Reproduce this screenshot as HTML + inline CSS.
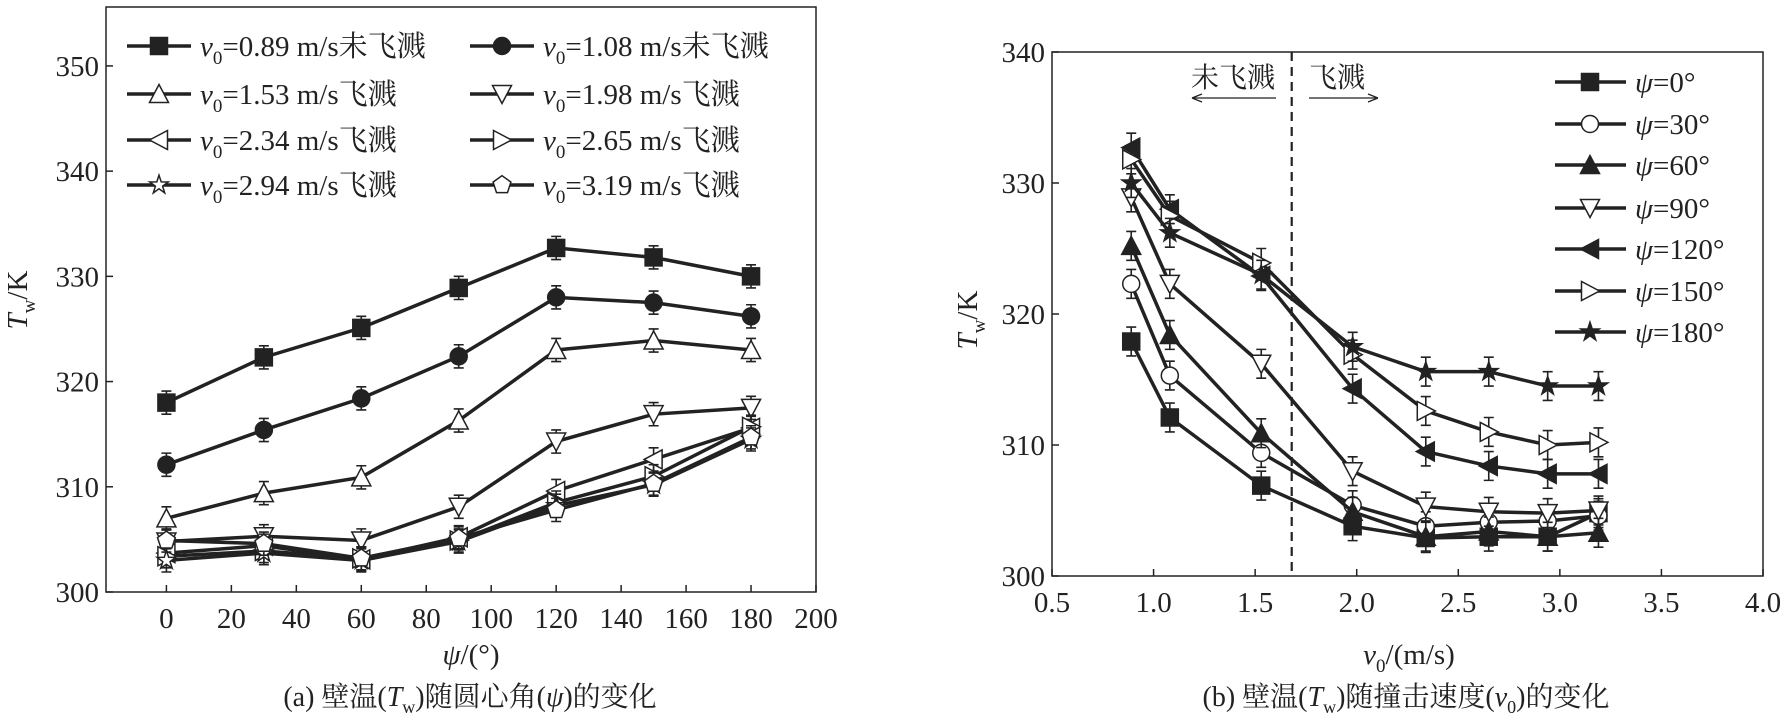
<!DOCTYPE html>
<html><head><meta charset="utf-8"><style>
html,body{margin:0;padding:0;background:#fff}
svg, svg text{font-family:"Liberation Serif","DejaVu Serif","Noto Serif CJK SC",serif}
</style></head><body>
<svg id="chart" width="1784" height="717" viewBox="0 0 1784 717" xmlns="http://www.w3.org/2000/svg"></svg>
<script>
// ---- Chart (a) data ----
const psiCats = [0, 30, 60, 90, 120, 150, 180];
const aLabels = ["0.89 m/s未飞溅","1.08 m/s未飞溅","1.53 m/s飞溅","1.98 m/s飞溅","2.34 m/s飞溅","2.65 m/s飞溅","2.94 m/s飞溅","3.19 m/s飞溅"];
const aV089 = [318.0, 322.3, 325.1, 328.9, 332.7, 331.8, 330.0];
const aV108 = [312.1, 315.4, 318.4, 322.4, 328.0, 327.5, 326.2];
const aV153 = [307.0, 309.4, 310.9, 316.3, 323.0, 323.9, 323.0];
const aV198 = [304.8, 305.3, 304.9, 308.1, 314.3, 316.9, 317.5];
const aV234 = [303.7, 304.4, 303.1, 305.2, 309.6, 312.6, 315.6];
const aV265 = [303.4, 303.9, 303.2, 304.9, 308.5, 311.0, 315.7];
const aV294 = [303.0, 303.7, 303.0, 304.8, 308.2, 310.2, 314.5];
const aV319 = [304.9, 304.6, 303.2, 305.1, 307.8, 310.3, 314.7];
const aXTicks = [0,20,40,60,80,100,120,140,160,180,200];
const aYTicks = [300,310,320,330,340,350];
// ---- Chart (b) data ----
const vCats = [0.89, 1.08, 1.53, 1.98, 2.34, 2.65, 2.94, 3.19];
const bLabels = ["0°","30°","60°","90°","120°","150°","180°"];
const bP0   = [317.9, 312.1, 306.9, 303.8, 302.9, 303.0, 303.0, 304.8];
const bP30  = [322.3, 315.3, 309.4, 305.4, 303.8, 304.1, 304.2, 304.6];
const bP60  = [325.2, 318.4, 310.9, 304.9, 303.0, 303.4, 303.0, 303.3];
const bP90  = [328.9, 322.3, 316.2, 308.0, 305.3, 304.9, 304.8, 305.0];
const bP120 = [332.7, 328.0, 322.9, 314.3, 309.5, 308.4, 307.8, 307.8];
const bP150 = [331.8, 327.5, 323.9, 316.9, 312.6, 311.0, 310.0, 310.2];
const bP180 = [330.0, 326.2, 323.0, 317.5, 315.6, 315.6, 314.5, 314.5];
const bXTicks = [0.5,1.0,1.5,2.0,2.5,3.0,3.5,4.0];
const bYTicks = [300,310,320,330,340];
const errHalf = 1.1;
const splashBoundary = 1.68;

const NS="http://www.w3.org/2000/svg";
const svg=document.getElementById('chart');
const FF='"Liberation Serif","DejaVu Serif","Noto Serif CJK SC",serif';
function mk(tag,attrs,parent){const e=document.createElementNS(NS,tag);for(const k in attrs)e.setAttribute(k,attrs[k]);if(tag==='text')e.setAttribute('font-family',FF);(parent||svg).appendChild(e);return e;}

function marker(g,type,x,y){
  const s=8.5; let e;
  const fill = (type==='sq'||type==='circ'||type==='tri'||type==='tl'||type==='star') ? '#222':'#fff';
  if(type==='sq'||type==='sqf') e=mk('rect',{x:x-s,y:y-s,width:2*s,height:2*s},g);
  else if(type==='circ'||type==='circo') e=mk('circle',{cx:x,cy:y,r:s},g);
  else if(type==='tri'||type==='trio') e=mk('polygon',{points:`${x},${y-s-1} ${x-s-1},${y+s} ${x+s+1},${y+s}`},g);
  else if(type==='tdo') e=mk('polygon',{points:`${x-s-1},${y-s} ${x+s+1},${y-s} ${x},${y+s+1}`},g);
  else if(type==='tl'||type==='tlo') e=mk('polygon',{points:`${x-s-1},${y} ${x+s},${y-s-1} ${x+s},${y+s+1}`},g);
  else if(type==='tro') e=mk('polygon',{points:`${x+s+1},${y} ${x-s},${y-s-1} ${x-s},${y+s+1}`},g);
  else if(type==='star'||type==='staro'){let p=[];for(let i=0;i<10;i++){const r=i%2?s*0.45:s*1.15;const a=-Math.PI/2+i*Math.PI/5;p.push((x+r*Math.cos(a)).toFixed(1)+','+(y+r*Math.sin(a)).toFixed(1));}e=mk('polygon',{points:p.join(' ')},g);}
  else if(type==='pento'){let p=[];for(let i=0;i<5;i++){const a=-Math.PI/2+i*2*Math.PI/5;p.push((x+s*1.1*Math.cos(a)).toFixed(1)+','+(y+s*1.1*Math.sin(a)).toFixed(1));}e=mk('polygon',{points:p.join(' ')},g);}
  e.setAttribute('fill',fill);e.setAttribute('stroke','#222');e.setAttribute('stroke-width','1.5');
  
  
  return e;
}

function drawChart(cfg){
  const {L,R,T,B,xmin,xmax,ymin,ymax,xs,series,types,names,xTicks,yTicks,xFmt,id}=cfg;
  const X=v=>L+(v-xmin)/(xmax-xmin)*(R-L);
  const Y=v=>B-(v-ymin)/(ymax-ymin)*(B-T);
  const g=mk('g',{});
  
  
  const box=mk('rect',{x:L,y:T,width:R-L,height:B-T,fill:'none',stroke:'#222','stroke-width':1.5},g);
  
  
  xTicks.forEach(t=>{
    mk('line',{x1:X(t),x2:X(t),y1:B,y2:B-7,stroke:'#222','stroke-width':1.5},g);
    const tx=mk('text',{x:X(t),y:B+36,'font-size':29,'text-anchor':'middle',fill:'#222'},g);
    tx.textContent=xFmt(t);
    
    
  });
  yTicks.forEach(t=>{
    mk('line',{x1:L,x2:L+7,y1:Y(t),y2:Y(t),stroke:'#222','stroke-width':1.5},g);
    const tx=mk('text',{x:L-7,y:Y(t)+10,'font-size':29,'text-anchor':'end',fill:'#222'},g);
    tx.textContent=t;
    
    
  });
  series.forEach((vals,si)=>{
    const sg=mk('g',{},g);
    
    
    const pl=mk('polyline',{points:vals.map((v,i)=>X(xs[i])+','+Y(v)).join(' '),fill:'none',stroke:'#222','stroke-width':3.5},sg);
    
    
    vals.forEach((v,i)=>{
      const x=X(xs[i]);
      mk('path',{d:`M${x},${Y(v-errHalf)}V${Y(v+errHalf)}M${x-5},${Y(v-errHalf)}h10M${x-5},${Y(v+errHalf)}h10`,stroke:'#222','stroke-width':1.6,fill:'none'},sg);
      marker(sg,types[si],x,Y(v));
    });
  });
  return {X,Y,g};
}

// Chart (a)
const aSeries=[aV089,aV108,aV153,aV198,aV234,aV265,aV294,aV319];
const aTypes=['sq','circ','trio','tdo','tlo','tro','staro','pento'];
const A=drawChart({id:'chart-a',L:106,R:816,T:7,B:592,xmin:-18.6,xmax:200,ymin:300,ymax:355.6,xs:psiCats,series:aSeries,types:aTypes,names:['v089','v108','v153','v198','v234','v265','v294','v319'],xTicks:aXTicks,yTicks:aYTicks,xFmt:t=>t});
// legend a
aLabels.forEach((lab,i)=>{
  const col=i%2,row=Math.floor(i/2);
  const x0=col?470:127, y0=[46,94,140,185][row];
  const lg=mk('g',{});
  
  
  mk('line',{x1:x0,x2:x0+64,y1:y0,y2:y0,stroke:'#222','stroke-width':3.5},lg);
  marker(lg,aTypes[i],x0+32,y0);
  const t=mk('text',{x:x0+73,y:y0+10,'font-size':29,fill:'#222'},lg);
  t.innerHTML=`<tspan font-style="italic">v</tspan><tspan font-size="19" dy="8">0</tspan><tspan dy="-8">=${lab}</tspan>`;
});

// Chart (b)
const bSeries=[bP0,bP30,bP60,bP90,bP120,bP150,bP180];
const bTypes=['sq','circo','tri','tdo','tl','tro','star'];
const Bc=drawChart({id:'chart-b',L:1052,R:1763,T:52,B:576,xmin:0.5,xmax:4.0,ymin:300,ymax:340,xs:vCats,series:bSeries,types:bTypes,names:['psi0','psi30','psi60','psi90','psi120','psi150','psi180'],xTicks:bXTicks,yTicks:bYTicks,xFmt:t=>t.toFixed(1)});
const dl=mk('line',{x1:Bc.X(splashBoundary),x2:Bc.X(splashBoundary),y1:52,y2:576,stroke:'#222','stroke-width':2.2,'stroke-dasharray':'9,6'});


bLabels.forEach((lab,i)=>{
  const x0=1555,y0=[82,124,165,208,249,291,332][i];
  const lg=mk('g',{});
  
  
  mk('line',{x1:x0,x2:x0+71,y1:y0,y2:y0,stroke:'#222','stroke-width':3.5},lg);
  marker(lg,bTypes[i],x0+35,y0);
  const t=mk('text',{x:x0+80,y:y0+10,'font-size':29,fill:'#222'},lg);
  t.innerHTML=`<tspan font-style="italic">ψ</tspan>=${lab}`;
});
</script>
<div style="position:absolute;left:0;top:0;width:1784px;height:717px;pointer-events:none">
<svg width="1784" height="717" style="position:absolute;left:0;top:0" font-family="'Liberation Serif','DejaVu Serif','Noto Serif CJK SC',serif" fill="#222">
  <text x="1233" y="87" font-size="28" text-anchor="middle">未飞溅</text>
  <text x="1337" y="87" font-size="28" text-anchor="middle">飞溅</text>
  <g stroke="#222" stroke-width="1.3" fill="none"><path d="M1192,98H1276M1192,98l10,-4M1192,98l10,4"/></g>
  <g stroke="#222" stroke-width="1.3" fill="none"><path d="M1309,98H1378M1378,98l-10,-4M1378,98l-10,4"/></g>
  <text x="471" y="664" font-size="29" text-anchor="middle"><tspan font-style="italic">ψ</tspan>/(°)</text>
  <text x="1409" y="664" font-size="29" text-anchor="middle"><tspan font-style="italic">v</tspan><tspan font-size="19" dy="8">0</tspan><tspan dy="-8">/(m/s)</tspan></text>
  <text transform="translate(27,300) rotate(-90)" font-size="29" text-anchor="middle"><tspan font-style="italic">T</tspan><tspan font-size="19" dy="8">w</tspan><tspan dy="-8">/K</tspan></text>
  <text transform="translate(977,320) rotate(-90)" font-size="29" text-anchor="middle"><tspan font-style="italic">T</tspan><tspan font-size="19" dy="8">w</tspan><tspan dy="-8">/K</tspan></text>
  <text x="470" y="706" font-size="28" text-anchor="middle">(a) 壁温(<tspan font-style="italic">T</tspan><tspan font-size="18" dy="7">w</tspan><tspan dy="-7">)随圆心角(</tspan><tspan font-style="italic">ψ</tspan>)的变化</text>
  <text x="1406" y="706" font-size="28" text-anchor="middle">(b) 壁温(<tspan font-style="italic">T</tspan><tspan font-size="18" dy="7">w</tspan><tspan dy="-7">)随撞击速度(</tspan><tspan font-style="italic">v</tspan><tspan font-size="18" dy="7">0</tspan><tspan dy="-7">)的变化</tspan></text>
</svg>
</div>
</body></html>
